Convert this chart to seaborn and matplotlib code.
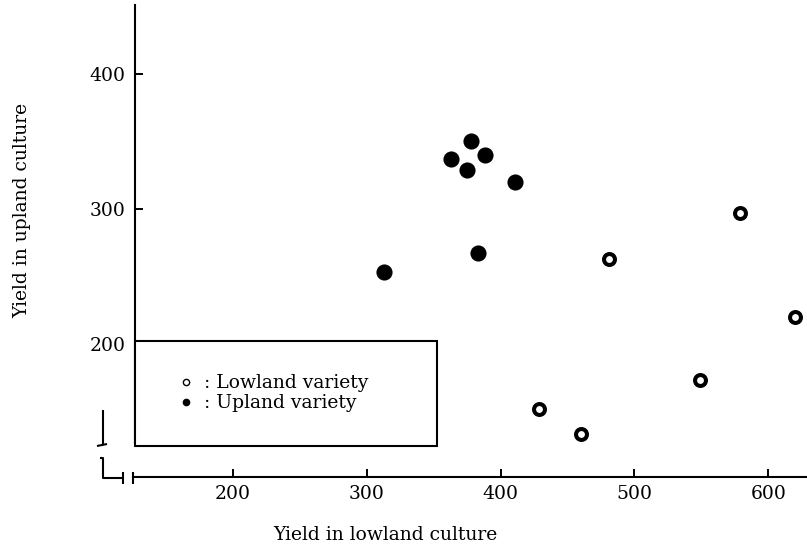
import numpy as np
import pandas as pd
import matplotlib
matplotlib.use("Agg")
import matplotlib.pyplot as plt
from matplotlib.lines import Line2D
import seaborn as sns

# yields
upland_x = [313, 363, 375, 378, 388, 411, 383]
upland_y = [253, 337, 329, 350, 340, 320, 267]
lowland_x = [481, 579, 620, 549, 429, 460]
lowland_y = [263, 297, 220, 173, 152, 133]
xticks = [200, 300, 400, 500, 600]
yticks = [200, 300, 400]

df = pd.concat([
    pd.DataFrame({"low": lowland_x, "up": lowland_y, "variety": "Lowland variety"}),
    pd.DataFrame({"low": upland_x, "up": upland_y, "variety": "Upland variety"}),
])

sns.set_style("ticks")
plt.rcParams["font.family"] = ["DejaVu Serif", "Liberation Serif"]
plt.rcParams["text.color"] = "black"
plt.rcParams["axes.labelcolor"] = "black"
FS = 13.5

W, H = 807, 550
fig = plt.figure(figsize=(W / 100, H / 100), dpi=100)
ax = fig.add_axes([135 / W, 1 - 477 / H, 672 / W, 472 / H])

sns.scatterplot(data=df[df.variety == "Upland variety"], x="low", y="up", ax=ax,
                color="black", edgecolor="black", s=135, linewidth=0, legend=False)
sns.scatterplot(data=df[df.variety == "Lowland variety"], x="low", y="up", ax=ax,
                facecolor="white", edgecolor="black", s=62, linewidth=2.9, legend=False)

ax.set_xlim(126.8, 629)
ax.set_ylim(101.5, 451)
ax.set_xticks(xticks)
ax.set_yticks(yticks)
ax.tick_params(direction="in", length=6, width=1.4, labelsize=FS, pad=7,
               color="black", labelcolor="black")
ax.tick_params(axis="x", pad=6)
for s in ["top", "right"]:
    ax.spines[s].set_visible(False)
for s in ["left", "bottom"]:
    ax.spines[s].set_linewidth(1.5)
    ax.spines[s].set_color("black")
ax.spines["left"].set_bounds(126.7, 451)
ax.spines["bottom"].set_bounds(125.3, 629)

ax.set_xlabel("Yield in lowland culture", fontsize=FS)
ax.set_ylabel("Yield in upland culture", fontsize=FS)
ax.xaxis.set_label_coords((385 - 135) / 672, (477 - 526) / 472)
ax.yaxis.set_label_coords((22 - 135) / 672, (477 - 210) / 472)
ax.yaxis.label.set_va("center")

# legend box
handles = [
    Line2D([], [], ls="", marker="o", ms=4.5, mfc="white", mec="black", mew=1.0),
    Line2D([], [], ls="", marker="o", ms=4.5, mfc="black", mec="black"),
]
leg = ax.legend(handles, [": Lowland variety", ": Upland variety"], loc="upper left",
                bbox_to_anchor=(0, (477 - 341) / 472, (437 - 135) / 672, 0), mode="expand",
                borderaxespad=0, borderpad=1.77, handlelength=1.9, handletextpad=0.0,
                labelspacing=0.12, fontsize=FS, frameon=True, fancybox=False,
                edgecolor="black", framealpha=1)
leg.get_frame().set_linewidth(1.5)


# axis break marks, in pixel coordinates of the figure
def seg(xs, ys, lw=1.5):
    fig.add_artist(Line2D([x / W for x in xs], [1 - y / H for y in ys],
                          transform=fig.transFigure, color="black", lw=lw,
                          solid_capstyle="butt"))


seg([103, 103], [410, 445])
seg([97, 107], [446, 444])
seg([100, 103, 103, 123], [458, 458, 478, 478])
seg([123, 123], [472, 484])
seg([133, 133], [472, 484])

fig.savefig("out.png", dpi=100)
